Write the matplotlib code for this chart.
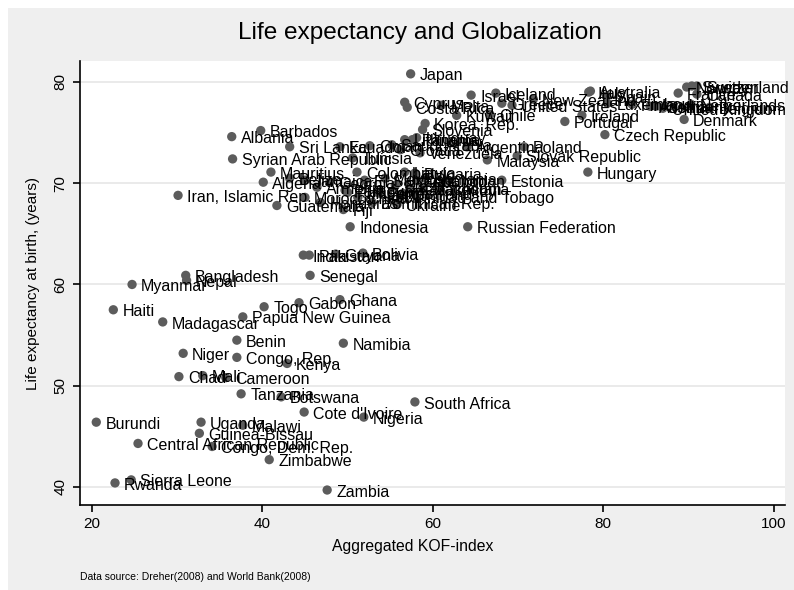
import matplotlib
matplotlib.use('Agg')
import matplotlib.pyplot as plt
from matplotlib.patches import Rectangle

plt.rcParams['font.family'] = ['Liberation Sans', 'DejaVu Sans']

countries = [
    "Japan", "Israel", "Iceland", "Cyprus", "Costa Rica", "Malta", "Kuwait", "Chile",
    "Greece", "United States", "New Zealand", "Australia", "Italy", "Spain", "Luxembourg",
    "Ireland", "Portugal", "Czech Republic", "Hungary", "Finland", "Austria", "Germany",
    "United Kingdom", "Belgium", "Netherlands", "Denmark", "France", "Canada", "Norway",
    "Sweden", "Switzerland",
    "Korea, Rep.", "Slovenia", "Lithuania", "Panama", "Uruguay", "Argentina", "Poland",
    "Slovak Republic", "Malaysia", "Estonia", "Ecuador", "Oman", "Saudi Arabia", "Tunisia",
    "Croatia", "Venezuela", "Colombia", "Latvia", "Bulgaria", "Jordan", "Turkey", "Romania",
    "Trinidad and Tobago", "Dominican Rep.", "Ukraine", "Morocco", "Honduras", "Fiji",
    "Paraguay", "Peru", "Philippines", "China", "Egypt", "Thailand", "Kazakhstan", "Lebanon",
    "Macedonia", "Jamaica", "Armenia", "Belize", "Georgia", "El Salvador", "Mexico", "Brazil",
    "Indonesia", "Russian Federation", "Barbados", "Albania", "Sri Lanka",
    "Syrian Arab Republic", "Mauritius", "Algeria", "Guatemala", "Iran, Islamic Rep.",
    "India", "Pakistan", "Guyana", "Bolivia", "Senegal", "Bangladesh", "Nepal", "Myanmar",
    "Haiti", "Madagascar", "Papua New Guinea", "Togo", "Gabon", "Ghana", "Benin", "Niger",
    "Congo, Rep.", "Kenya", "Namibia", "Chad", "Mali", "Cameroon", "Tanzania", "Botswana",
    "Cote d'Ivoire", "Nigeria", "South Africa", "Burundi", "Uganda", "Malawi",
    "Guinea-Bissau", "Central African Republic", "Congo, Dem. Rep.", "Zimbabwe", "Rwanda",
    "Sierra Leone", "Zambia",
]

kof_index = [
    57.4, 64.5, 67.4, 56.7, 57.0, 61.0, 62.8, 66.7,
    68.1, 69.3, 71.8, 78.5, 78.3, 80.4, 80.5,
    77.5, 75.5, 80.2, 78.2, 83.4, 85.5, 86.2,
    87.0, 92.5, 90.3, 89.5, 88.8, 91.0, 89.8,
    90.4, 91.0,
    59.1, 58.8, 56.7, 57.6, 58.1, 64.0, 70.7,
    69.9, 66.4, 68.1, 49.1, 52.6, 55.2, 50.6,
    56.2, 58.5, 51.1, 56.7, 57.9, 61.7, 60.8, 59.1,
    56.2, 52.9, 55.8, 45.0, 46.8, 49.5,
    49.7, 53.5, 50.0, 51.2, 53.8, 56.5, 57.3, 58.1,
    58.8, 45.0, 46.4, 43.2, 47.9, 52.0, 54.4, 55.6,
    50.3, 64.1, 39.8, 36.4, 43.2,
    36.5, 41.0, 40.1, 41.7, 30.1,
    44.8, 45.5, 48.6, 51.8, 45.6, 31.0, 31.1, 24.7,
    22.5, 28.3, 37.7, 40.2, 44.3, 49.1, 37.0, 30.7,
    37.0, 42.9, 49.5, 30.2, 33.0, 35.7, 37.5, 42.2,
    44.9, 51.9, 57.9, 20.5, 32.8, 37.7,
    32.6, 25.4, 34.1, 40.8, 22.7,
    24.6, 47.6,
]

life_expectancy = [
    80.8, 78.7, 78.9, 78.0, 77.5, 77.7, 76.7, 76.8,
    77.9, 77.7, 78.3, 79.1, 79.0, 78.6, 77.9,
    76.7, 76.1, 74.8, 71.1, 77.8, 77.6, 77.6,
    77.4, 77.5, 77.8, 76.3, 78.9, 78.8, 79.5,
    79.6, 79.6,
    75.9, 75.3, 74.3, 74.3, 74.5, 73.6, 73.6,
    72.7, 72.3, 70.3, 73.6, 73.7, 73.8, 72.5,
    73.3, 73.0, 71.1, 71.1, 71.0, 70.3, 69.3, 70.5,
    68.7, 68.1, 67.9, 68.6, 68.1, 67.4,
    69.3, 69.1, 69.1, 68.6, 69.0, 69.0, 69.5, 70.3,
    69.5, 70.3, 69.6, 70.5, 70.1, 70.3, 70.5, 69.8,
    65.7, 65.7, 75.2, 74.6, 73.6,
    72.4, 71.1, 70.1, 67.8, 68.8,
    62.9, 62.9, 63.0, 63.1, 60.9, 60.9, 60.4, 60.0,
    57.5, 56.3, 56.8, 57.8, 58.2, 58.5, 54.5, 53.2,
    52.8, 52.2, 54.2, 50.9, 51.0, 50.8, 49.2, 48.9,
    47.4, 46.9, 48.4, 46.4, 46.4, 46.1,
    45.3, 44.3, 44.0, 42.7, 40.4,
    40.7, 39.7,
]

x_ticks = [20, 40, 60, 80, 100]
y_ticks = [40, 50, 60, 70, 80]

W, H = 794, 590
fig = plt.figure(figsize=(W / 100, H / 100), dpi=100, facecolor='white')
fig.patches.append(Rectangle((8 / W, 0), 1 - 8 / W, 1 - 8 / H, transform=fig.transFigure,
                             facecolor='#efefef', edgecolor='none', zorder=-10))

L, R, T, B = 80, 785, 61, 505
ax = fig.add_axes([L / W, 1 - B / H, (R - L) / W, (B - T) / H])
ax.set_facecolor('white')
ax.set_xlim(18.59, 101.34)
ax.set_ylim(38.22, 82.07)

ax.scatter(kof_index, life_expectancy, s=45, color='#5c5c5c', edgecolors='none', zorder=3)
for name, xv, yv in zip(countries, kof_index, life_expectancy):
    ax.annotate(name, (xv, yv), xytext=(6.5, -1.5), textcoords='offset points',
                fontsize=11.5, ha='left', va='center', color='black', zorder=4,
                annotation_clip=False)

ax.set_xticks(x_ticks)
ax.set_yticks(y_ticks)
ax.set_xticklabels([str(v) for v in x_ticks])
ax.set_yticklabels([str(v) for v in y_ticks], rotation=90, va='center')
ax.tick_params(axis='both', direction='out', length=5, width=1.2, labelsize=11, colors='black', pad=4)
ax.grid(axis='y', color='#e4e4e4', linewidth=1.1, zorder=0)
ax.grid(axis='x', visible=False)
ax.set_axisbelow(True)
for side in ['top', 'right']:
    ax.spines[side].set_visible(False)
for side in ['left', 'bottom']:
    ax.spines[side].set_linewidth(1.2)
    ax.spines[side].set_color('black')

fig.text(420 / W, 1 - 33 / H, "Life expectancy and Globalization", ha='center', va='center', fontsize=17.6)
fig.text(33 / W, 1 - 283 / H, "Life expectancy at birth, (years)", ha='center', va='center',
         rotation=90, fontsize=11)
fig.text(413 / W, 1 - 546 / H, "Aggregated KOF-index", ha='center', va='center', fontsize=11.3)
fig.text(80 / W, 1 - 577 / H, "Data source: Dreher(2008) and World Bank(2008)", ha='left', va='center',
         fontsize=7.5)

fig.savefig('out.png', dpi=100, facecolor=fig.get_facecolor())
